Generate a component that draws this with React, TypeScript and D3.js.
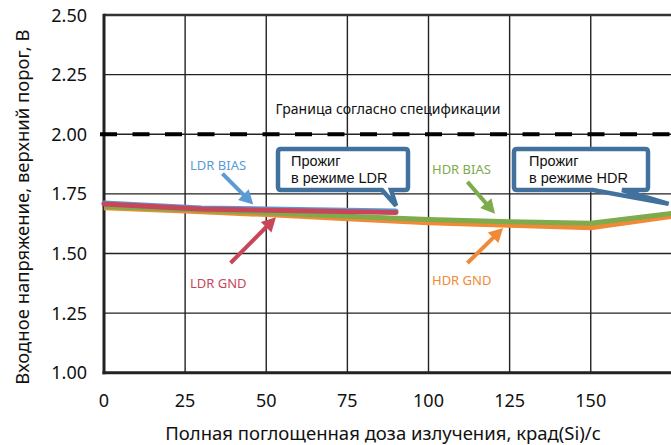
import React from "react";
import * as d3 from "d3";

const X_TICKS = [0, 25, 50, 75, 100, 125, 150];
const Y_TICKS = [1.0, 1.25, 1.5, 1.75, 2.0, 2.25, 2.5];
const SPEC_LIMIT = 2.0;

const LDR_DOSE = [0, 30, 60, 90];
const LDR_BIAS = [1.712, 1.691, 1.684, 1.678];
const LDR_GND = [1.707, 1.686, 1.679, 1.672];

const HDR_DOSE = [0, 25, 50, 75, 100, 125, 150, 175];
const HDR_BIAS = [1.697, 1.684, 1.671, 1.656, 1.642, 1.633, 1.627, 1.668];
const HDR_GND = [1.693, 1.679, 1.664, 1.647, 1.630, 1.619, 1.609, 1.657];

const COLORS = {
  ldrBias: "#5b9bd5",
  ldrGnd: "#c8465a",
  hdrBias: "#7eab4b",
  hdrGnd: "#f08a36",
  callout: "#41719c",
};

const FONT = "'Noto Sans', 'Open Sans', sans-serif";
const CALLOUT_FONT = "'Liberation Sans', Arial, sans-serif";

const W = 671;
const H = 445;

export default function App() {
  const x = d3.scaleLinear().domain([0, 175]).range([104, 104 + 175 * 3.245]);
  const y = d3.scaleLinear().domain([1, 2.5]).range([372.7, 15]);

  const line = (xs: number[], ys: number[]) =>
    d3
      .line<number>()
      .x((_, i) => x(xs[i]))
      .y((d) => y(d))(ys) as string;

  const arrow = (
    x1: number,
    y1: number,
    x2: number,
    y2: number,
    color: string
  ) => {
    const ax1 = x(x1), ay1 = y(y1), ax2 = x(x2), ay2 = y(y2);
    const dx = ax2 - ax1, dy = ay2 - ay1;
    const len = Math.hypot(dx, dy);
    const ux = dx / len, uy = dy / len;
    const hl = 14, hw = 7.5;
    const bx = ax2 - ux * hl, by = ay2 - uy * hl;
    const px = -uy, py = ux;
    return (
      <g>
        <line x1={ax1} y1={ay1} x2={bx + ux * 2} y2={by + uy * 2} stroke={color} strokeWidth={4} />
        <polygon
          points={`${ax2},${ay2} ${bx + px * hw},${by + py * hw} ${bx - px * hw},${by - py * hw}`}
          fill={color}
        />
      </g>
    );
  };

  const callout = (
    x0: number,
    y0: number,
    x1: number,
    y1: number,
    tb1: number,
    tb2: number,
    tipX: number,
    tipY: number
  ) => {
    const r = 3;
    return `M${x0 + r},${y0} H${x1 - r} Q${x1},${y0} ${x1},${y0 + r} V${y1 - r} Q${x1},${y1} ${x1 - r},${y1} H${tb2} L${tipX},${tipY} L${tb1},${y1} H${x0 + r} Q${x0},${y1} ${x0},${y1 - r} V${y0 + r} Q${x0},${y0} ${x0 + r},${y0} Z`;
  };

  const left = x(0);
  const right = W;
  const top = y(2.5);
  const bottom = y(1);

  return (
    <svg
      width={W}
      height={H}
      style={{ position: "absolute", left: 0, top: 0, background: "#fff" }}
      fontFamily={FONT}
    >
      <rect x={0} y={0} width={W} height={H} fill="#fff" />
      {/* grid */}
      {X_TICKS.filter((t) => t > 0).map((t) => (
        <line key={"gx" + t} x1={x(t)} x2={x(t)} y1={top} y2={bottom} stroke="#222" strokeWidth={1.4} />
      ))}
      {Y_TICKS.filter((t) => t > 1 && t < 2.5).map((t) => (
        <line key={"gy" + t} x1={left} x2={right} y1={y(t)} y2={y(t)} stroke="#222" strokeWidth={1.4} />
      ))}
      {/* frame */}
      <line x1={left} x2={right} y1={top} y2={top} stroke="#333" strokeWidth={2.6} />
      <line x1={left} x2={left} y1={top - 1.3} y2={bottom + 1.5} stroke="#222" strokeWidth={3} />
      <line x1={left - 1.5} x2={right} y1={bottom} y2={bottom} stroke="#222" strokeWidth={3} />

      {/* spec limit */}
      <line
        x1={100}
        x2={right}
        y1={y(SPEC_LIMIT)}
        y2={y(SPEC_LIMIT)}
        stroke="#000"
        strokeWidth={4}
        strokeDasharray="17 15.5"
      />
      <text x={388} y={y(SPEC_LIMIT) - 20} fontSize={14} textAnchor="middle" fill="#111">
        Граница согласно спецификации
      </text>

      {/* series */}
      <path d={line(HDR_DOSE, HDR_GND)} fill="none" stroke={COLORS.hdrGnd} strokeWidth={5.5} />
      <path d={line(HDR_DOSE, HDR_BIAS)} fill="none" stroke={COLORS.hdrBias} strokeWidth={5} />
      <path d={line(LDR_DOSE, LDR_BIAS)} fill="none" stroke={COLORS.ldrBias} strokeWidth={5} strokeLinecap="round" />
      <path d={line(LDR_DOSE, LDR_GND)} fill="none" stroke={COLORS.ldrGnd} strokeWidth={5} strokeLinecap="round" />

      {/* callouts */}
      <path
        d={callout(278, 149, 408, 190, 382, 391, x(90), y(1.7))}
        fill="#fff"
        stroke={COLORS.callout}
        strokeWidth={4.5}
      />
      <text x={291} y={166} fontSize={14.5} fill="#111" fontFamily={CALLOUT_FONT}>
        <tspan x={291} y={166}>Прожиг</tspan>
        <tspan x={291} y={182.5}>в режиме LDR</tspan>
      </text>

      <path
        d={callout(514, 149, 648, 190, 593, 622, x(174), y(1.708))}
        fill="#fff"
        stroke={COLORS.callout}
        strokeWidth={4.5}
      />
      <text x={529} y={166} fontSize={14.5} fill="#111" fontFamily={CALLOUT_FONT}>
        <tspan x={529} y={166}>Прожиг</tspan>
        <tspan x={529} y={182.5}>в режиме HDR</tspan>
      </text>

      {/* series labels with arrows */}
      <text x={190} y={170} fontSize={13} fill={COLORS.ldrBias}>LDR BIAS</text>
      {arrow(36.5, 1.835, 46, 1.705, COLORS.ldrBias)}
      <text x={190} y={288} fontSize={13} fill={COLORS.ldrGnd}>LDR GND</text>
      {arrow(39, 1.46, 53, 1.652, COLORS.ldrGnd)}
      <text x={432} y={174} fontSize={13} fill={COLORS.hdrBias}>HDR BIAS</text>
      {arrow(112, 1.8, 120.5, 1.667, COLORS.hdrBias)}
      <text x={432} y={285} fontSize={13} fill={COLORS.hdrGnd}>HDR GND</text>
      {arrow(112, 1.46, 123, 1.607, COLORS.hdrGnd)}

      {/* tick labels */}
      {Y_TICKS.map((t) => (
        <text key={"yl" + t} x={87} y={y(t) + 6.5} fontSize={18} textAnchor="end" fill="#111">
          {t.toFixed(2)}
        </text>
      ))}
      {X_TICKS.map((t) => (
        <text key={"xl" + t} x={x(t)} y={407} fontSize={18} textAnchor="middle" fill="#111">
          {t}
        </text>
      ))}

      <text x={383} y={440} fontSize={18.5} textAnchor="middle" fill="#111">
        Полная поглощенная доза излучения, крад(Si)/с
      </text>
      <text
        transform={`translate(29, ${207}) rotate(-90)`}
        fontSize={18.5}
        textAnchor="middle"
        fill="#111"
      >
        Входное напряжение, верхний порог, В
      </text>
    </svg>
  );
}
